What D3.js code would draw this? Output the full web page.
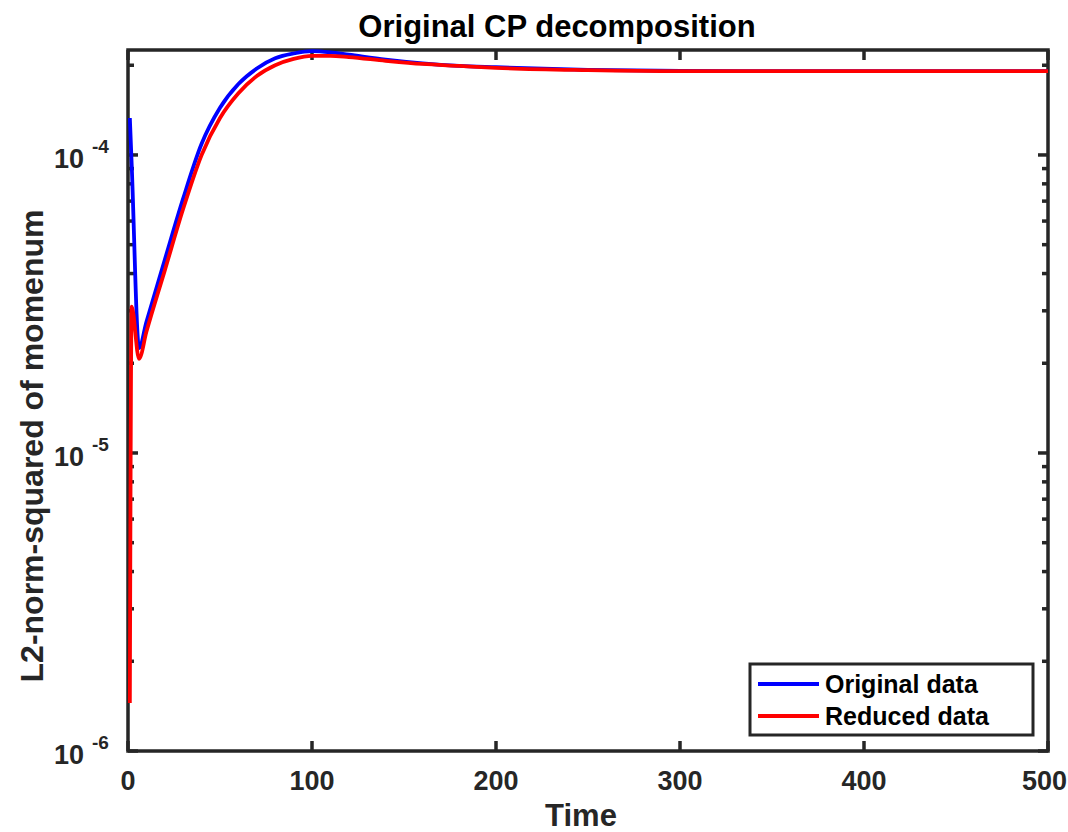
<!DOCTYPE html>
<html>
<head>
<meta charset="utf-8">
<script src="https://cdn.jsdelivr.net/npm/d3@7"></script>
<style>
  html, body { margin: 0; padding: 0; background: #fff; }
  svg { display: block; font-family: "Liberation Sans", Arial, Helvetica, sans-serif; font-weight: bold; }
</style>
</head>
<body>
<svg id="chart" width="1068" height="832"></svg>
<script>
// Time samples and squared L2-norm of momentum for both runs
const time = [1, 2, 6, 10, 20, 30, 40, 50, 60, 70, 80, 90, 100, 110, 120, 140, 160, 180, 200, 250, 300, 350, 400, 450, 500];
const originalData = [1.33e-4, 9.3e-5, 2.25e-5, 2.75e-5, 4.45e-5, 7.15e-5, 1.09e-4, 1.44e-4, 1.73e-4, 1.95e-4, 2.11e-4, 2.19e-4, 2.23e-4, 2.21e-4, 2.17e-4, 2.09e-4, 2.03e-4, 1.99e-4, 1.97e-4, 1.93e-4, 1.915e-4, 1.91e-4, 1.91e-4, 1.91e-4, 1.91e-4];
const reducedData = [1.45e-6, 3.1e-5, 2.07e-5, 2.55e-5, 4.1e-5, 6.6e-5, 1.0e-4, 1.33e-4, 1.61e-4, 1.84e-4, 2.0e-4, 2.1e-4, 2.15e-4, 2.15e-4, 2.13e-4, 2.07e-4, 2.02e-4, 1.99e-4, 1.96e-4, 1.925e-4, 1.91e-4, 1.91e-4, 1.91e-4, 1.91e-4, 1.91e-4];

const xTicks = [0, 100, 200, 300, 400, 500];
const yMajorTicks = [1e-6, 1e-5, 1e-4];
const yExponents = ["-6", "-5", "-4"];
const seriesNames = ["Original data", "Reduced data"];
const seriesColors = ["#0000ff", "#ff0000"];

const svg = d3.select("#chart");
const axisColor = "#262626";
const box = { left: 128, right: 1048, top: 50, bottom: 751 };

const x = d3.scaleLinear().domain([0, 500]).range([box.left, box.right]);
const y = d3.scaleLog().domain([1e-6, 2.25e-4]).range([box.bottom, box.top]);

// minor ticks: 2..9 x each decade inside the domain
const yMinorTicks = [];
yMajorTicks.forEach(d => {
  for (let k = 2; k <= 9; k++) {
    const v = d * k;
    if (v <= y.domain()[1]) yMinorTicks.push(v);
  }
});

const line = d3.line()
  .x((d, i) => x(time[i]))
  .y(d => y(d))
  .curve(d3.curveMonotoneX);

// axes box
const axes = svg.append("g").attr("stroke", axisColor).attr("stroke-width", 3.5).attr("fill", "none");
axes.append("rect")
  .attr("x", box.left).attr("y", box.top)
  .attr("width", box.right - box.left).attr("height", box.bottom - box.top);

// x ticks, bottom and top, pointing inward
xTicks.forEach(t => {
  axes.append("line").attr("x1", x(t)).attr("x2", x(t)).attr("y1", box.bottom).attr("y2", box.bottom - 10);
  axes.append("line").attr("x1", x(t)).attr("x2", x(t)).attr("y1", box.top).attr("y2", box.top + 10);
});
// y ticks, left and right
yMajorTicks.forEach(v => {
  axes.append("line").attr("x1", box.left).attr("x2", box.left + 10).attr("y1", y(v)).attr("y2", y(v));
  axes.append("line").attr("x1", box.right).attr("x2", box.right - 10).attr("y1", y(v)).attr("y2", y(v));
});
yMinorTicks.forEach(v => {
  axes.append("line").attr("x1", box.left).attr("x2", box.left + 6).attr("y1", y(v)).attr("y2", y(v));
  axes.append("line").attr("x1", box.right).attr("x2", box.right - 6).attr("y1", y(v)).attr("y2", y(v));
});

// data lines drawn over the axes
[originalData, reducedData].forEach((vals, i) => {
  svg.append("path")
    .datum(vals)
    .attr("d", line)
    .attr("fill", "none")
    .attr("stroke", seriesColors[i])
    .attr("stroke-width", 3.8)
    .attr("stroke-linejoin", "round");
});

// x tick labels; the last one is kept inside the page edge
svg.append("g").selectAll("text").data(xTicks).join("text")
  .attr("x", (d, i) => i === xTicks.length - 1 ? 1067 : x(d)).attr("y", 790)
  .attr("text-anchor", (d, i) => i === xTicks.length - 1 ? "end" : "middle")
  .attr("font-size", 27)
  .attr("fill", axisColor)
  .text(d => d);

// y tick labels as 10 with a raised exponent
yMajorTicks.forEach((v, i) => {
  const g = svg.append("g").attr("fill", axisColor);
  g.append("text")
    .attr("x", 84).attr("y", y(v) + 13)
    .attr("text-anchor", "end")
    .attr("font-size", 27)
    .text("10");
  g.append("text")
    .attr("x", 92).attr("y", y(v) - 2)
    .attr("font-size", 19)
    .text(yExponents[i]);
});

// title and axis labels
svg.append("text")
  .attr("x", 557).attr("y", 37)
  .attr("text-anchor", "middle")
  .attr("font-size", 31)
  .attr("fill", "#000")
  .text("Original CP decomposition");

svg.append("text")
  .attr("x", 581).attr("y", 826)
  .attr("text-anchor", "middle")
  .attr("font-size", 31)
  .attr("fill", axisColor)
  .text("Time");

svg.append("text")
  .attr("transform", "translate(43,446) rotate(-90)")
  .attr("text-anchor", "middle")
  .attr("font-size", 32)
  .attr("fill", axisColor)
  .text("L2-norm-squared of momenum");

// legend
const lg = svg.append("g");
lg.append("rect")
  .attr("x", 750).attr("y", 664).attr("width", 283).attr("height", 71)
  .attr("fill", "#fff").attr("stroke", "#262626").attr("stroke-width", 3);
seriesNames.forEach((name, i) => {
  const ly = 684 + i * 32;
  lg.append("line")
    .attr("x1", 758).attr("x2", 819).attr("y1", ly).attr("y2", ly)
    .attr("stroke", seriesColors[i]).attr("stroke-width", 3.8);
  lg.append("text")
    .attr("x", 825).attr("y", ly + 9)
    .attr("font-size", 25)
    .attr("fill", "#000")
    .text(name);
});
</script>
</body>
</html>
